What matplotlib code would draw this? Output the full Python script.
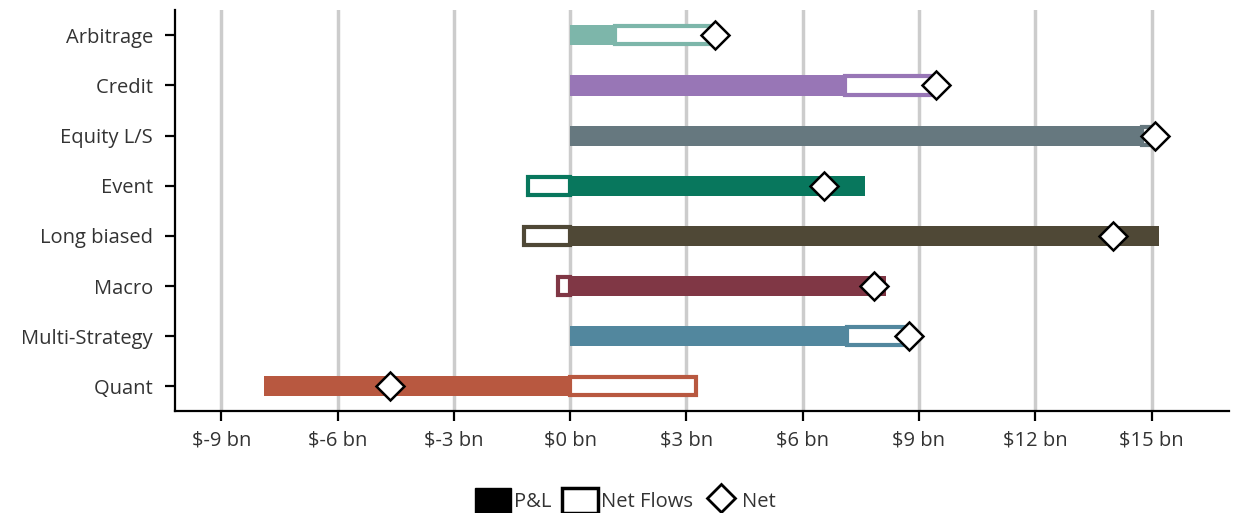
import matplotlib

matplotlib.use("Agg")
import matplotlib.pyplot as plt
from matplotlib.lines import Line2D
from matplotlib.patches import Patch

plt.rcParams["font.family"] = ["Open Sans", "DejaVu Sans"]

# data (bn USD)
strategies = [
    "Arbitrage",
    "Credit",
    "Equity L/S",
    "Event",
    "Long biased",
    "Macro",
    "Multi-Strategy",
    "Quant",
]
pnl = [1.15, 7.1, 14.75, 7.62, 15.2, 8.15, 7.15, -7.9]
net_flows = [2.6, 2.35, 0.35, -1.08, -1.2, -0.3, 1.6, 3.25]
colors = [
    "#7db6aa",
    "#9876b6",
    "#66787f",
    "#08775d",
    "#4f4836",
    "#803745",
    "#52879e",
    "#b85840",
]
x_ticks = [-9, -6, -3, 0, 3, 6, 9, 12, 15]

net = [p + f for p, f in zip(pnl, net_flows)]
y = list(range(len(strategies)))

fig, ax = plt.subplots(figsize=(12.39, 5.13), dpi=100)
fig.subplots_adjust(left=0.141, right=0.992, top=0.98, bottom=0.198)

# vertical grid
for t in x_ticks:
    ax.axvline(t, color="#cccccc", lw=2.5, zorder=0)

# P&L bars
ax.barh(y, pnl, height=0.4, color=colors, zorder=2)

# Net flows bars, drawn from the end of P&L when both are positive
for yi, p, f, c in zip(y, pnl, net_flows, colors):
    if p >= 0 and f >= 0:
        start = p
    else:
        start = 0
    ax.barh(
        yi,
        f,
        left=start,
        height=0.36,
        facecolor="white",
        edgecolor=c,
        linewidth=3,
        zorder=3,
    )

# Net markers
ax.plot(
    net,
    y,
    linestyle="none",
    marker="D",
    markersize=14.5,
    markerfacecolor="white",
    markeredgecolor="black",
    markeredgewidth=1.8,
    zorder=4,
)

ax.set_xlim(-10.2, 17.0)
ax.set_ylim(7.5, -0.5)
ax.set_yticks(y)
ax.set_yticklabels([s + " " for s in strategies])
ax.set_xticks(x_ticks)
ax.set_xticklabels([f"${t} bn" for t in x_ticks])

for side in ["top", "right"]:
    ax.spines[side].set_visible(False)
for side in ["left", "bottom"]:
    ax.spines[side].set_linewidth(1.6)

ax.tick_params(axis="both", labelsize=14.5, labelcolor="#333333", width=1.6, length=7)
ax.tick_params(axis="x", pad=7)
ax.tick_params(axis="y", pad=5)

handles = [
    Patch(facecolor="black", edgecolor="black"),
    Patch(facecolor="white", edgecolor="black", linewidth=2.5),
    Line2D(
        [],
        [],
        linestyle="none",
        marker="D",
        markersize=14,
        markerfacecolor="white",
        markeredgecolor="black",
        markeredgewidth=2,
    ),
]
fig.legend(
    handles=handles,
    labels=["P&L", "Net Flows", "Net"],
    loc="lower center",
    bbox_to_anchor=(0.505, -0.035),
    ncol=3,
    frameon=False,
    fontsize=14.5,
    handlelength=1.8,
    handleheight=1.5,
    handletextpad=0.15,
    columnspacing=0.5,
    labelcolor="#333333",
)

fig.savefig("out.png", dpi=100)
